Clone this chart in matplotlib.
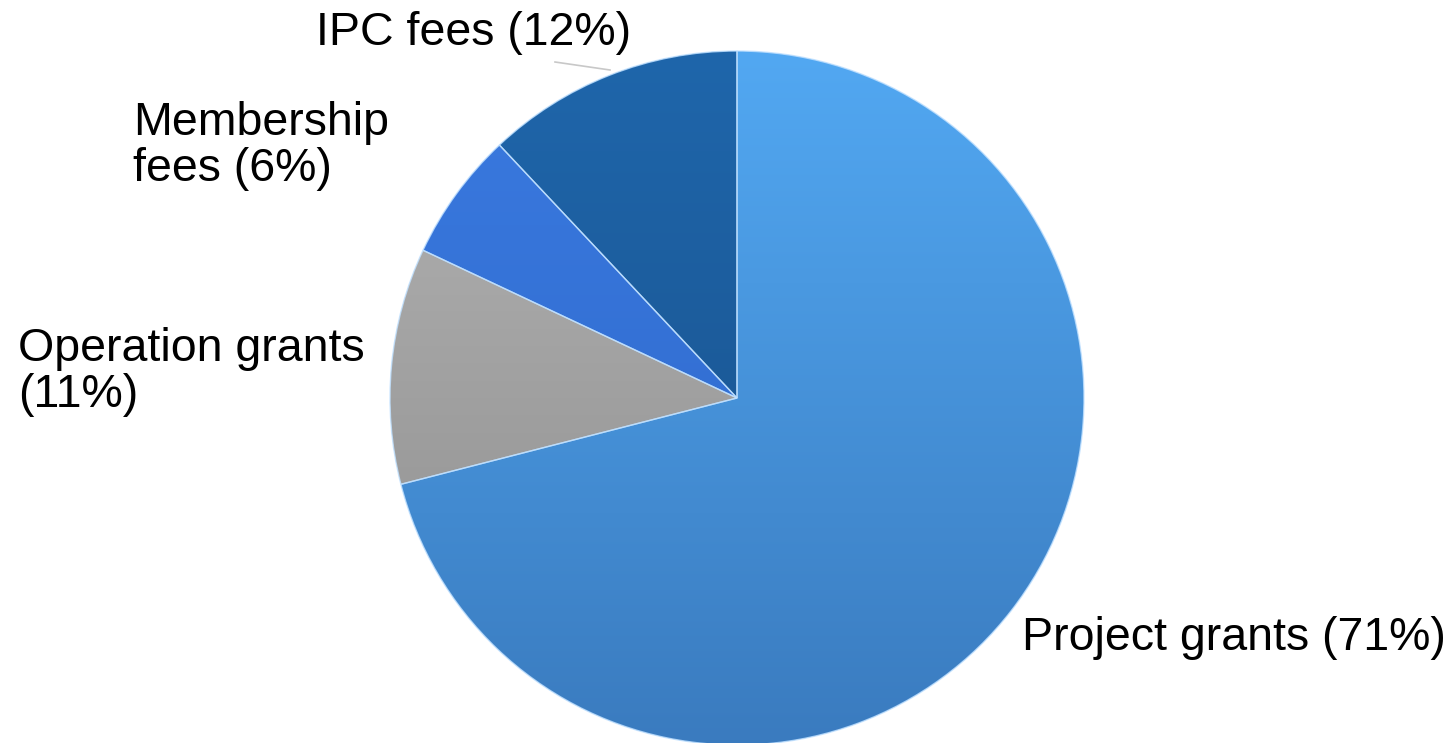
import numpy as np
import matplotlib.pyplot as plt
from matplotlib.colors import LinearSegmentedColormap

plt.rcParams['font.family'] = ['Liberation Sans', 'DejaVu Sans']

labels = ["Project grants (71%)", "Operation grants\n(11%)", "Membership\nfees (6%)", "IPC fees (12%)"]
shares = [71, 11, 6, 12]
top_colors = ["#52a8f2", "#b4b4b4", "#3a7ae0", "#1f66ab"]
bottom_colors = ["#3a7bbf", "#8c8c8c", "#2d66c8", "#184f88"]

fig = plt.figure(figsize=(14.55, 7.43), dpi=100)
W, H = 1455, 743
cx, cy, r = 737, 398, 347
ax = fig.add_axes([(cx - r) / W, (H - cy - r) / H, 2 * r / W, 2 * r / H])

wedges, _ = ax.pie(shares, startangle=90, counterclock=False, radius=1,
                   wedgeprops=dict(linewidth=1.0, edgecolor=(0.75, 0.88, 1.0, 0.8)))

grad = np.linspace(1, 0, 256).reshape(-1, 1)
for w, c1, c2 in zip(wedges, top_colors, bottom_colors):
    cmap = LinearSegmentedColormap.from_list("g", [c2, c1])
    im = ax.imshow(grad, cmap=cmap, extent=[-1, 1, -1, 1], origin="upper",
                   aspect="auto", zorder=1)
    im.set_clip_path(w)
    w.set_facecolor("none")
    w.set_zorder(2)

ax.set_xlim(-1, 1)
ax.set_ylim(-1, 1)
ax.axis("off")

# label positions (pixels, left edge / vertical centre)
label_x = [1022, 18, 133, 316]
label_y = [638, 372, 146, 33]
for lab, x, y in zip(labels, label_x, label_y):
    fig.text(x / W, 1 - y / H, lab, fontsize=33.5, ha="left", va="center",
             linespacing=1.07, color="black")

# faint leader line for IPC fees
fig.add_artist(plt.Line2D([555 / W, 610 / W], [1 - 62 / H, 1 - 70 / H],
                          color="#c8c8c8", lw=1.2))

fig.savefig("out.png", dpi=100)
